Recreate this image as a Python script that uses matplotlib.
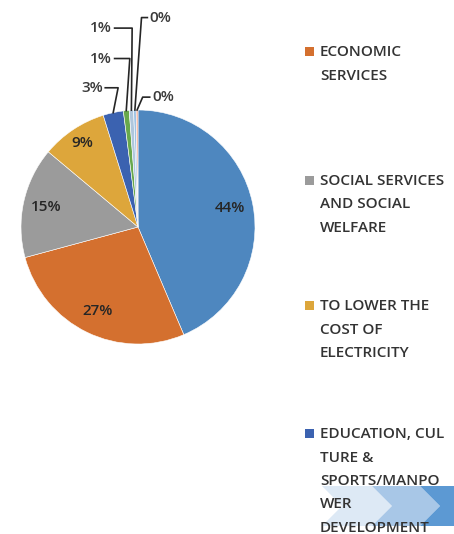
import matplotlib
matplotlib.use('Agg')
import matplotlib.pyplot as plt
import numpy as np
from matplotlib.patches import Polygon, Rectangle

plt.rcParams['font.family'] = ['Open Sans', 'DejaVu Sans']

# slice values (percent) clockwise from 12 o'clock
values = [43.6, 27.2, 15.3, 9.1, 2.8, 0.8, 0.6, 0.35, 0.25]
colors = ['#4E87BF', '#D4702F', '#9B9B9B', '#DDA63B', '#3B62B0',
          '#68A84C', '#AFC6DC', '#9DC3E6', '#EFA78F']
legendLabels = ['ECONOMIC\nSERVICES',
                'SOCIAL SERVICES\nAND SOCIAL\nWELFARE',
                'TO LOWER THE\nCOST OF\nELECTRICITY',
                'EDUCATION, CUL\nTURE &\nSPORTS/MANPO\nWER\nDEVELOPMENT']
legendColors = colors[1:5]

W, H = 454, 534
fig = plt.figure(figsize=(W / 100, H / 100), dpi=100)

# decorative chevrons behind the last legend entry
bg = fig.add_axes([0, 0, 1, 1])
bg.set_xlim(0, W)
bg.set_ylim(H, 0)
bg.axis('off')
chevrons = [(322, 372, '#DDE9F5'), (372, 420, '#A8C7E7'), (420, 470, '#5C99D3')]
top, bot, d = 486, 526, 20
for x0, x1, c in chevrons:
    pts = [(x0, top), (x1, top), (x1 + d, (top + bot) / 2), (x1, bot),
           (x0, bot), (x0 + d, (top + bot) / 2)]
    bg.add_patch(Polygon(pts, closed=True, color=c, lw=0, zorder=0))

# pie
cx, cy, r = 138, 227, 117
ax = fig.add_axes([(cx - r) / W, (H - cy - r) / H, 2 * r / W, 2 * r / H])
wedges, _ = ax.pie(values, colors=colors, startangle=90, counterclock=False,
                   radius=1, wedgeprops=dict(edgecolor='white', linewidth=0.4))
ax.set_xlim(-1, 1)
ax.set_ylim(-1, 1)
ax.set_aspect('equal')
ax.axis('off')

pct = ['{:.0f}%'.format(v) for v in values]

# inside labels
for i in range(4):
    w = wedges[i]
    ang = np.deg2rad((w.theta1 + w.theta2) / 2)
    rr = 0.8 if i < 3 else 0.86
    ax.text(rr * np.cos(ang), rr * np.sin(ang), pct[i], ha='center', va='center',
            fontsize=11, fontweight='semibold', color='#262626')

# outside labels with elbow leader lines: (text x, text y, elbow x, ha)
outside = {4: (-0.30, 1.19, -0.17, 'right'),
           5: (-0.22, 1.44, -0.07, 'right'),
           6: (-0.22, 1.70, -0.05, 'right'),
           7: (0.10, 1.79, 0.03, 'left'),
           8: (0.12, 1.11, 0.04, 'left')}
for i, (tx, ty, ex, ha) in outside.items():
    w = wedges[i]
    ang = np.deg2rad((w.theta1 + w.theta2) / 2)
    px, py = np.cos(ang), np.sin(ang)
    sx = tx + (0.02 if ha == 'right' else -0.02)
    ax.plot([sx, ex, px], [ty, ty, py], color='#262626', lw=1.2, clip_on=False)
    ax.text(tx, ty, pct[i], ha=ha, va='center', fontsize=11, fontweight='semibold',
            color='#3A3A3A', clip_on=False)

# legend
starts = [52, 181, 306, 434]
step = 23.5
for lab, c, y0 in zip(legendLabels, legendColors, starts):
    bg.add_patch(Rectangle((305, y0 - 5), 9, 9, color=c, lw=0))
    for k, line in enumerate(lab.split('\n')):
        bg.text(320, y0 + k * step, line, ha='left', va='center', fontsize=11,
                fontweight='semibold', color='#333333')

fig.savefig('out.png', dpi=100)
